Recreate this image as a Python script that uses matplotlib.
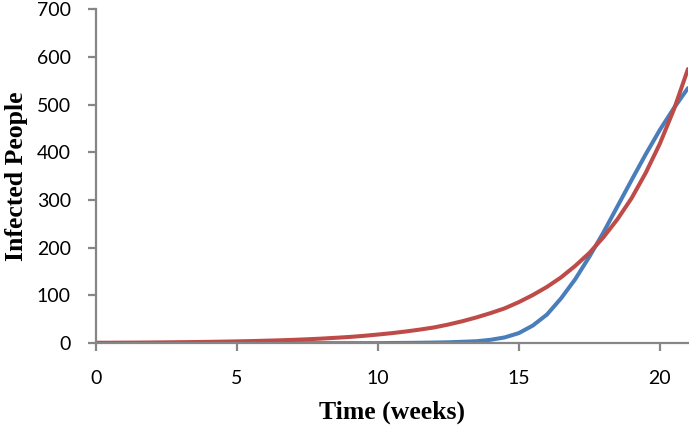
import matplotlib.pyplot as plt

# Time in weeks (half-week readings)
weeks = [i * 0.5 for i in range(43)]

# Blue series
blue_infected = [0, 0, 0, 0, 0, 0, 0, 0, 0, 0,
                 0, 0, 0, 0, 0, 0, 0, 0, 0, 0,
                 0, 0.3, 0.5, 0.8, 1.2, 1.8, 2.8, 4, 7, 12,
                 21, 37, 60, 94, 134, 181, 232, 287, 342, 396,
                 447, 493, 535]

# Red series
red_infected = [0.8, 0.9, 1.05, 1.2, 1.4, 1.7, 2.0, 2.3, 2.7, 3.2,
                3.7, 4.3, 5.1, 5.9, 6.9, 8.1, 9.5, 11.2, 13, 15.3,
                18, 21, 24.5, 28.5, 33, 39, 46, 54, 63, 73,
                86, 101, 118, 138, 162, 189, 222, 260, 304, 357,
                418, 490, 575]

x_ticks = [0, 5, 10, 15, 20]
y_ticks = [0, 100, 200, 300, 400, 500, 600, 700]

axis_grey = "#868686"

fig = plt.figure(figsize=(6.89, 4.30), dpi=100)
ax = fig.add_axes([0.139, 0.202, 0.8595, 0.776])

ax.plot(weeks, blue_infected, color="#4A7EBB", lw=2.9, solid_capstyle="round")
ax.plot(weeks, red_infected, color="#BE4B48", lw=2.9, solid_capstyle="round")

ax.set_xlim(0, 21)
ax.set_ylim(0, 700)
ax.set_xticks(x_ticks)
ax.set_yticks(y_ticks)

for side in ["top", "right"]:
    ax.spines[side].set_visible(False)
for side in ["left", "bottom"]:
    ax.spines[side].set_color(axis_grey)
    ax.spines[side].set_linewidth(1.6)

ax.tick_params(axis="both", direction="out", length=6, width=1.6,
               color=axis_grey, labelsize=14)
ax.tick_params(axis="y", pad=12)
ax.tick_params(axis="x", pad=13)
for lab in ax.get_xticklabels() + ax.get_yticklabels():
    lab.set_fontfamily("Lato")

ax.set_xlabel("Time (weeks)", fontfamily="Liberation Serif", fontweight="bold",
              fontsize=18.5, labelpad=10)
ax.set_ylabel("Infected People", fontfamily="Liberation Serif", fontweight="bold",
              fontsize=18.5, labelpad=6)

fig.savefig("out.png", dpi=100)
